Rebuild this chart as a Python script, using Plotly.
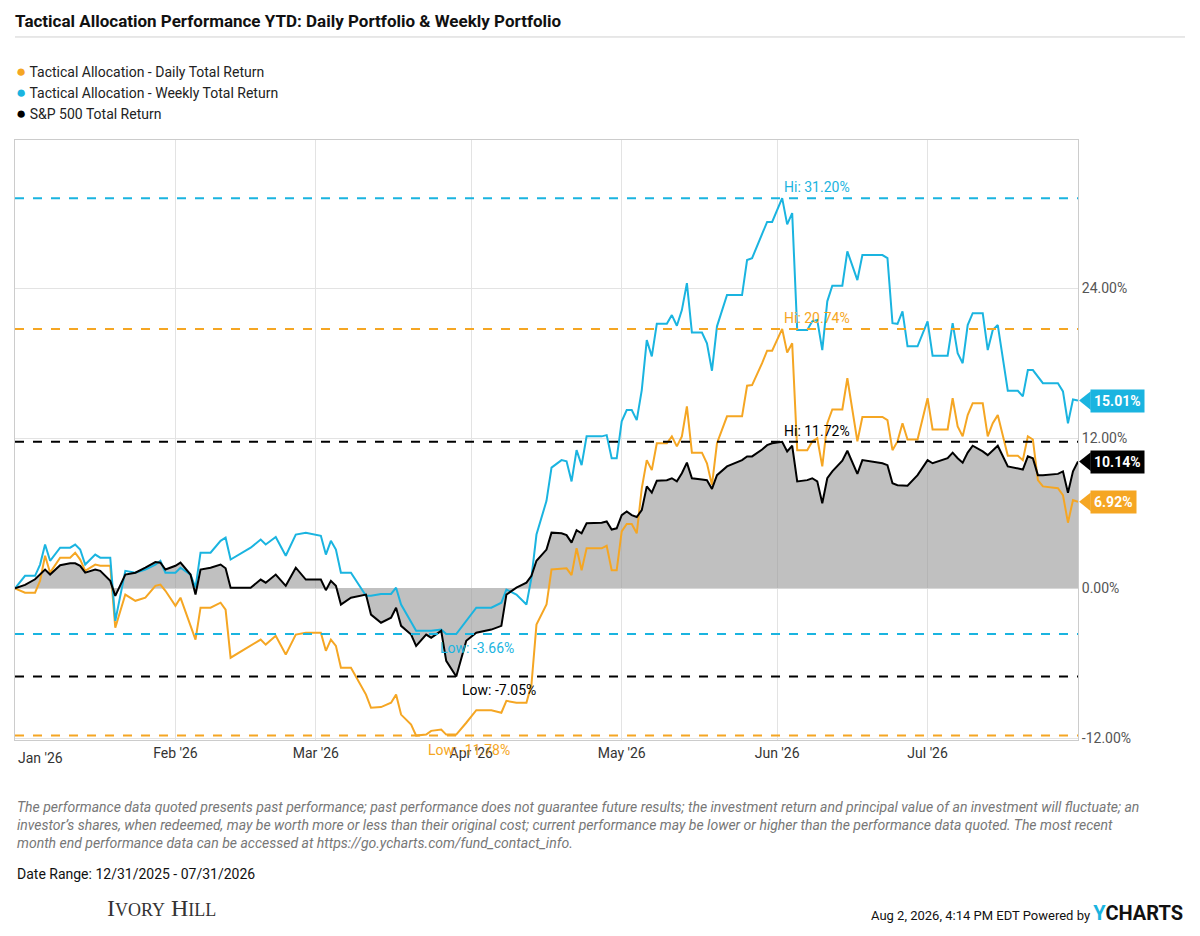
import plotly.graph_objects as go

# dates and values
dates = [
    "2025-12-31", "2026-01-02", "2026-01-04", "2026-01-05", "2026-01-06", "2026-01-07", "2026-01-09",
    "2026-01-11", "2026-01-12", "2026-01-13", "2026-01-14", "2026-01-16", "2026-01-17", "2026-01-19",
    "2026-01-20", "2026-01-22", "2026-01-24", "2026-01-26", "2026-01-28", "2026-01-29", "2026-01-30",
    "2026-02-01", "2026-02-02", "2026-02-04", "2026-02-05", "2026-02-06", "2026-02-08", "2026-02-10",
    "2026-02-11", "2026-02-12", "2026-02-16", "2026-02-18", "2026-02-19", "2026-02-21", "2026-02-23",
    "2026-02-25", "2026-02-27", "2026-03-02", "2026-03-03", "2026-03-04", "2026-03-05", "2026-03-06",
    "2026-03-08", "2026-03-11", "2026-03-12", "2026-03-14", "2026-03-16", "2026-03-17", "2026-03-18",
    "2026-03-20", "2026-03-21", "2026-03-23", "2026-03-24", "2026-03-26", "2026-03-27", "2026-03-29",
    "2026-03-31", "2026-04-02", "2026-04-05", "2026-04-07", "2026-04-08", "2026-04-10", "2026-04-12",
    "2026-04-13", "2026-04-14", "2026-04-16", "2026-04-17",
    "2026-04-19", "2026-04-20", "2026-04-21", "2026-04-22", "2026-04-23", "2026-04-24", "2026-04-27",
    "2026-04-28", "2026-04-29", "2026-04-30",
    "2026-05-01", "2026-05-02", "2026-05-03", "2026-05-04", "2026-05-05", "2026-05-06", "2026-05-07",
    "2026-05-08", "2026-05-10", "2026-05-11", "2026-05-12", "2026-05-13", "2026-05-14", "2026-05-15",
    "2026-05-17", "2026-05-18", "2026-05-19", "2026-05-20", "2026-05-22", "2026-05-25", "2026-05-26",
    "2026-05-27", "2026-05-29", "2026-05-30", "2026-05-31",
    "2026-06-02", "2026-06-03", "2026-06-04", "2026-06-05", "2026-06-07", "2026-06-08", "2026-06-09",
    "2026-06-10", "2026-06-11", "2026-06-12", "2026-06-14", "2026-06-15", "2026-06-17", "2026-06-18",
    "2026-06-22", "2026-06-23", "2026-06-24", "2026-06-25", "2026-06-26", "2026-06-27", "2026-06-29",
    "2026-07-01", "2026-07-02", "2026-07-05", "2026-07-06", "2026-07-07", "2026-07-08", "2026-07-09",
    "2026-07-10", "2026-07-12", "2026-07-13", "2026-07-14", "2026-07-15", "2026-07-17", "2026-07-19",
    "2026-07-20", "2026-07-21", "2026-07-22", "2026-07-23", "2026-07-24", "2026-07-27", "2026-07-28",
    "2026-07-29", "2026-07-30", "2026-07-31",
]

weekly = [
    0, 1.0, 1.0, 1.9, 3.5, 2.2, 3.25, 3.25, 3.5, 3.1, 1.9, 2.7, 2.45, 2.45, -2.6, 1.4, 1.25, 1.5, 1.9,
    2.2, 1.25, 1.25, 1.65, 1.1, 0.05, 2.85, 2.85, 3.8, 4.05, 2.3, 3.25, 3.9, 3.5, 4.1, 2.6, 4.3, 4.45,
    4.2, 2.7, 3.8, 3.1, 1.25, 1.25, -0.6, -0.6, -0.45, -0.45, 0.05, -1.3, -2.75, -3.4, -3.4, -3.4,
    -3.3, -3.66, -3.66, -2.6, -1.55, -1.55, -1.15, -0.1, -0.5, -1.3, 0.85, 4.3, 7.0, 9.65,
    10.25, 10.15, 8.55, 11.05, 9.85, 12.15, 12.15, 12.25, 10.4, 10.4,
    13.35, 14.25, 14.25, 13.45, 15.85, 19.85, 18.55, 21.15, 21.15, 21.85, 21.0, 22.25, 24.4, 20.45,
    20.45, 19.6, 17.4, 20.95, 23.45, 23.45, 26.25, 26.4, 28.25, 29.3, 29.3,
    31.2, 29.1, 30.0, 20.65, 20.65, 21.35, 21.45, 19.05, 22.95, 24.2, 24.2, 26.95, 24.65, 26.65,
    26.65, 26.4, 21.2, 21.15, 22.15, 19.35, 19.35,
    21.35, 18.6, 18.6, 21.2, 18.8, 18.0, 21.05, 22.0, 22.0, 19.05, 20.65, 21.05, 15.8, 15.8, 15.35,
    17.45, 17.45, 16.9, 16.4, 16.4, 15.75, 13.2, 15.1, 15.01,
]

daily = [
    0, -0.35, -0.35, 0.6, 2.6, 1.25, 2.45, 2.45, 2.85, 2.3, 1.4, 1.9, 1.8, 1.8, -3.15, -0.5, -1.0,
    -0.75, 0.2, 0.3, -0.2, -1.4, -0.75, -3.0, -4.1, -1.55, -1.55, -1.15, -1.7, -5.55, -4.6, -4.1, -4.5,
    -3.8, -5.3, -3.7, -3.55, -3.55, -5.0, -4.1, -4.6, -6.35, -6.35, -8.5, -9.55, -9.5, -9.15, -8.5,
    -10.1, -10.9, -11.78, -11.7, -11.4, -11.3, -11.7, -11.7, -10.75, -9.75, -9.75, -9.95, -9.0, -9.15,
    -9.15, -7.7, -2.9, -1.3, 1.5,
    1.6, 1.6, 1.05, 3.2, 1.45, 3.2, 3.2, 3.4, 1.45, 1.45,
    4.55, 5.15, 5.15, 4.4, 8.0, 10.25, 9.45, 11.6, 11.6, 12.15, 11.35, 12.15, 14.55, 10.85, 10.85,
    10.0, 8.25, 11.6, 13.75, 13.75, 16.2, 16.25, 18.0, 19.0, 19.0,
    20.74, 18.85, 19.6, 11.05, 11.05, 11.75, 12.0, 9.75, 13.2, 14.3, 14.3, 16.8, 11.75, 13.7, 13.7,
    13.45, 11.05, 11.75, 13.2, 11.9, 11.9,
    15.2, 12.7, 12.7, 15.2, 12.95, 12.15, 13.85, 14.8, 14.8, 12.15, 13.2, 13.85, 10.6, 10.6, 10.25,
    12.15, 11.9, 8.65, 8.15, 8.0, 7.45, 5.25, 7.05, 6.92,
]

sp500 = [
    0, 0.27, 0.72, 1.1, 1.5, 1.1, 1.85, 2.0, 2.0, 1.8, 1.25, 1.5, 1.4, 0.6, -0.6, 1.1, 1.25, 1.65,
    2.1, 2.05, 1.5, 1.8, 2.05, 1.1, -0.5, 1.5, 1.65, 1.9, 1.6, 0.05, 0.05, 0.7, 0.45, 1.1, 0.2, 1.65,
    0.7, 0.7, -0.15, 0.6, 0.2, -1.3, -0.75, -0.5, -2.1, -2.75, -2.35, -1.55, -3.0, -3.7, -4.6, -3.7,
    -3.95, -3.4, -5.8, -7.05, -4.2, -3.55, -3.3, -3.0, -0.5, 0.05, 0.45, 1.0, 2.2, 3.1, 4.45,
    4.4, 4.25, 3.65, 4.65, 4.4, 5.2, 5.25, 5.35, 4.7, 4.8,
    5.85, 6.15, 5.85, 5.7, 6.25, 8.15, 7.65, 8.6, 8.65, 8.8, 8.55, 9.2, 10.05, 8.8, 8.7, 8.65, 7.95,
    9.05, 9.75, 10.25, 10.55, 10.55, 11.1, 11.45, 11.6,
    11.72, 10.95, 11.4, 8.55, 8.65, 8.8, 8.55, 6.8, 8.8, 9.35, 10.2, 11.0, 9.15, 10.25, 10.0, 9.85,
    8.4, 8.25, 8.25, 8.2, 9.05,
    10.25, 10.0, 10.4, 10.85, 10.4, 10.05, 10.85, 11.4, 10.95, 10.65, 11.05, 11.4, 9.75, 9.6, 9.5,
    10.55, 10.4, 9.05, 9.05, 9.15, 9.35, 7.65, 9.35, 10.14,
]

names = ["Tactical Allocation - Daily Total Return", "Tactical Allocation - Weekly Total Return",
         "S&P 500 Total Return"]
y_ticks = [-12, 0, 12, 24]
month_ticks = ["2026-02-01", "2026-03-01", "2026-04-01", "2026-05-01", "2026-06-01", "2026-07-01"]

ORANGE = "#f5a623"
BLUE = "#1ab4e0"
BLACK = "#000000"
FONT = "Roboto"

Y0, Y1 = -12.13, 35.85  # axis range

fig = go.Figure()

# gray fill under S&P 500
fig.add_trace(go.Scatter(x=dates, y=sp500, mode="lines", line=dict(width=0),
                         fill="tozeroy", fillcolor="rgba(150,150,150,0.6)",
                         showlegend=False, hoverinfo="skip"))

for name, vals, color in [(names[0], daily, ORANGE), (names[1], weekly, BLUE), (names[2], sp500, BLACK)]:
    fig.add_trace(go.Scatter(x=dates, y=vals, mode="lines", name=name,
                             line=dict(color=color, width=2), showlegend=False))

# legend drawn as text rows (keeps the plot margins fixed)
for i, (name, color) in enumerate(zip(names, [ORANGE, BLUE, BLACK])):
    fig.add_annotation(x=0, y=1.115 - i * 0.035, xref="paper", yref="paper",
                       text=f"<span style='color:{color};font-size:17px'>●</span> {name}",
                       showarrow=False, xanchor="left", yanchor="middle", xshift=-1,
                       font=dict(family=FONT, size=14, color="#222"))

# hi / low lines
extremes = [
    (max(weekly), BLUE, "Hi", dates[weekly.index(max(weekly))], 0),
    (max(daily), ORANGE, "Hi", dates[daily.index(max(daily))], 0),
    (max(sp500), BLACK, "Hi", dates[sp500.index(max(sp500))], 0),
    (min(weekly), BLUE, "Low", dates[weekly.index(min(weekly))], -8),
    (min(sp500), BLACK, "Low", dates[sp500.index(min(sp500))], 4),
    (min(daily), ORANGE, "Low", dates[daily.index(min(daily))], 10),
]
for val, color, kind, when, dx in extremes:
    fig.add_shape(type="line", xref="paper", yref="y", x0=0, x1=1, y0=val, y1=val,
                  line=dict(color=color, width=2, dash="dash"))
    fig.add_annotation(x=when, y=val, xref="x", yref="y", text=f"{kind}: {val:.2f}%",
                       showarrow=False, xanchor="left", xshift=dx,
                       yanchor="bottom" if kind == "Hi" else "top",
                       yshift=1 if kind == "Hi" else -4,
                       font=dict(family=FONT, size=14, color=color))

# end value tags
for vals, color in [(weekly, BLUE), (sp500, BLACK), (daily, ORANGE)]:
    v = vals[-1]
    fig.add_shape(type="path", xref="paper", yref="y",
                  path=f"M 1.001 {v} L 1.012 {v + 0.75} L 1.012 {v - 0.75} Z",
                  fillcolor=color, line=dict(width=0))
    fig.add_annotation(x=1.011, y=v, xref="paper", yref="y", text=f"<b>{v:.2f}%</b>",
                       showarrow=False, xanchor="left", bgcolor=color, borderpad=3,
                       font=dict(family=FONT, size=14, color="white"))

# title rule
fig.add_shape(type="line", xref="paper", yref="paper", x0=0, x1=1.1007, y0=1.1717, y1=1.1717,
              line=dict(color="#d0d0d0", width=1))

fig.add_annotation(x="2026-01-01", y=0, xref="x", yref="paper", text="Jan '26", showarrow=False,
                   xanchor="left", yanchor="top", xshift=-4, yshift=-8,
                   font=dict(family=FONT, size=14, color="#333"))

footnote = ("The performance data quoted presents past performance; past performance does not guarantee future results; "
            "the investment return and principal value of an investment will fluctuate; an<br>investor’s shares, when redeemed, "
            "may be worth more or less than their original cost; current performance may be lower or higher than the "
            "performance data quoted. The most recent<br>month end performance data can be accessed at "
            "https://go.ycharts.com/fund_contact_info.")
fig.add_annotation(x=0, y=-0.095, xref="paper", yref="paper", text=f"<i>{footnote}</i>", showarrow=False,
                   xanchor="left", yanchor="top", align="left",
                   font=dict(family=FONT, size=14, color="#777"))
fig.add_annotation(x=0, y=-0.207, xref="paper", yref="paper", text="Date Range: 12/31/2025 - 07/31/2026",
                   showarrow=False, xanchor="left", yanchor="top", font=dict(family=FONT, size=14, color="#111"))
fig.add_annotation(x=0.085, y=-0.255, xref="paper", yref="paper",
                   text="I<span style='font-size:18px'>VORY</span> H<span style='font-size:18px'>ILL</span>",
                   showarrow=False, xanchor="left", yanchor="top",
                   font=dict(family="Liberation Serif", size=24, color="#333"))
fig.add_annotation(x=1.1007, y=-0.265, xref="paper", yref="paper",
                   text="Aug 2, 2026, 4:14 PM EDT Powered by <b><span style='font-size:20px;color:#1ab4e0'>Y</span>"
                        "<span style='font-size:20px'>CHARTS</span></b>",
                   showarrow=False, xanchor="right", yanchor="top", font=dict(family=FONT, size=13, color="#111"))

fig.update_xaxes(range=["2025-12-31", "2026-07-31"], type="date",
                 tickvals=month_ticks, tickformat="%b '%y", showgrid=True, gridcolor="#e3e3e3", ticks="",
                 showline=True, linecolor="#cccccc", mirror=True,
                 tickfont=dict(family=FONT, size=14, color="#333"))
fig.update_yaxes(range=[Y0, Y1], side="right", tickvals=y_ticks,
                 ticktext=[f"{t:.2f}%" for t in y_ticks],
                 showgrid=True, gridcolor="#e3e3e3", zeroline=False,
                 showline=True, linecolor="#cccccc", mirror=True,
                 tickfont=dict(family=FONT, size=14, color="#555"))

fig.update_layout(
    width=1184, height=920,
    margin=dict(l=7, r=114, t=132, b=188),
    paper_bgcolor="white", plot_bgcolor="white",
    title=dict(text="<b>Tactical Allocation Performance YTD: Daily Portfolio & Weekly Portfolio</b>",
               x=0.006, xanchor="left", y=0.986, yanchor="middle",
               font=dict(family=FONT, size=17, color="#111")),
    showlegend=False,
)

fig.write_html("out.html")
